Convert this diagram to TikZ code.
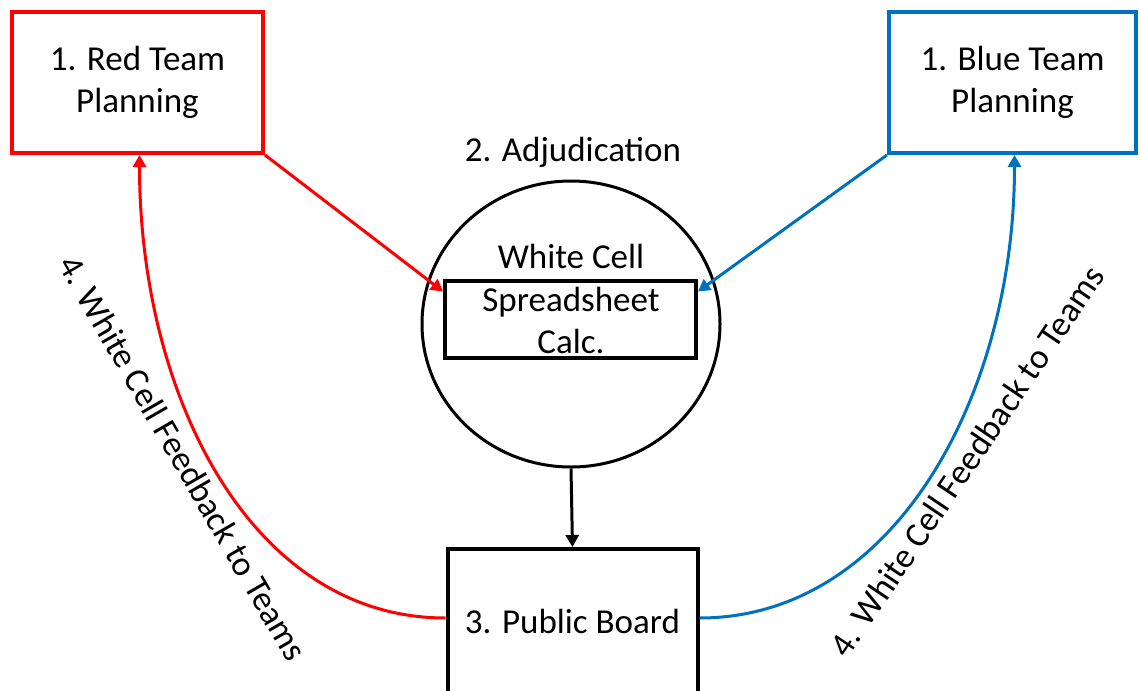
\documentclass[tikz,border=0pt]{standalone}
\usepackage{fontspec}
\setmainfont{Carlito}
\usetikzlibrary{arrows.meta,shapes.geometric}
\definecolor{redteam}{RGB}{255,0,0}
\definecolor{blueteam}{RGB}{0,112,192}

\begin{document}
\begin{tikzpicture}[x=0.5pt, y=-0.5pt,
    every node/.style ={font=\fontsize{17.5pt}{21.3pt}\selectfont, align=center},
    teambox/.style ={rectangle, draw, line width=2pt, inner sep = 0pt},
    flow/.style ={line width=1.5pt, -{Triangle[length=6pt, width=6.5pt]}}]
   \useasboundingbox (0,0) rectangle (1141,691);
   \node[teambox, draw = redteam, minimum width=125.5pt, minimum height=70.5pt] (red) at (137.5,82.5) {1. Red Team\\Planning};
   \node[teambox, draw = blueteam, minimum width=123.5pt, minimum height=70.5pt] (blue) at (1012.5,82.5) {1. Blue Team\\Planning};
   \node (adjtitle) at (573,152) {2. Adjudication};
   \node[ellipse, draw, line width=1.5pt, inner sep = 0pt, minimum width=149pt, minimum height=143pt] (adj) at (571,324) {};
   \node[teambox, minimum width=125.5pt, minimum height=38.5pt] (sheet) at (570.5,319.5) {};
   \node (cell) at (571,299) {White Cell\\Spreadsheet\\Calc.};
   \node[teambox, minimum width=125pt, minimum height=72pt] (board) at (572.5,621) {3. Public Board};
   \node[rotate=-60] (redfb) at (183,458) {4. White Cell Feedback to Teams};
   \node[rotate=56] (bluefb) at (967,461) {4. White Cell Feedback to Teams};


   \draw[flow, redteam] (red.south east) to ([yshift=14pt]sheet.west);
   \draw[flow, blueteam] (blue.south west) to ([yshift=14pt]sheet.east);
   \draw[flow, black] (adj.south) to (board.north);
   \draw[flow, redteam] ([yshift=1.5pt]board.west) .. controls +(-195,0) and +(0,240) .. ([xshift=1pt]red.south);
   \draw[flow, blueteam] ([yshift=1.5pt]board.east) .. controls +(195,0) and +(0,240) .. ([xshift=1pt]blue.south);
 \end{tikzpicture}
\end{document}
